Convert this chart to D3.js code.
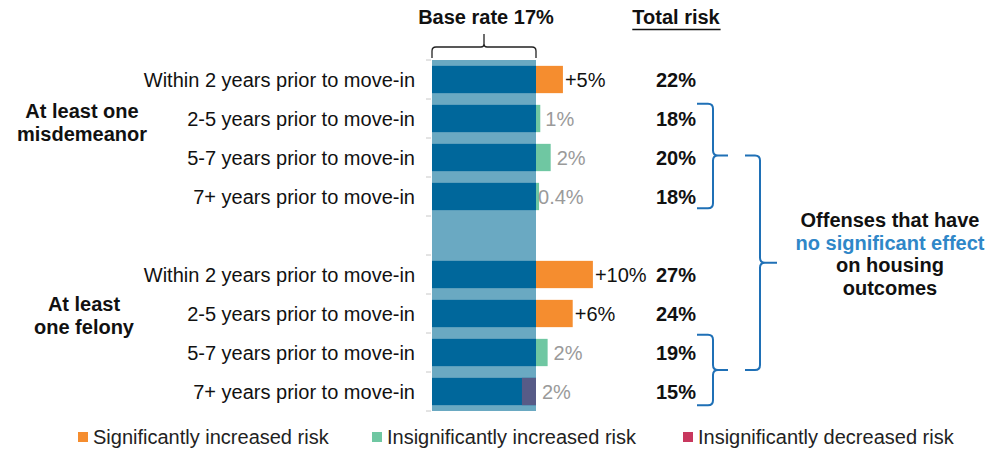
<!DOCTYPE html>
<html>
<head>
<meta charset="utf-8">
<title>Risk by offense timing</title>
<script src="https://d3js.org/d3.v7.min.js"></script>
<style>
  body { margin: 0; background: #fff; }
  text { font-family: "Liberation Sans", Arial, sans-serif; }
</style>
</head>
<body>
<div id="chart"></div>
<script>

// ---- data ----
var slots = ["m1", "m2", "m3", "m4", "gap", "f1", "f2", "f3", "f4"];
var rowKeys = ["m1", "m2", "m3", "m4", "f1", "f2", "f3", "f4"];
var categories = [
  "Within 2 years prior to move-in", "2-5 years prior to move-in",
  "5-7 years prior to move-in", "7+ years prior to move-in",
  "Within 2 years prior to move-in", "2-5 years prior to move-in",
  "5-7 years prior to move-in", "7+ years prior to move-in"
];
var baseRate = 17;
var deltas = [4.4, 0.7, 2.4, 0.5, 9.3, 6.0, 1.9, -2.3];
var deltaTypes = ["sig", "insigUp", "insigUp", "insigUp", "sig", "sig", "insigUp", "insigDown"];
var deltaLabels = ["+5%", "1%", "2%", "0.4%", "+10%", "+6%", "2%", "2%"];
var totalLabels = ["22%", "18%", "20%", "18%", "27%", "24%", "19%", "15%"];
var groupLabels = [["At least one", "misdemeanor"], ["At least", "one felony"]];
var legendLabels = ["Significantly increased risk", "Insignificantly increased risk", "Insignificantly decreased risk"];
var noteLines = ["Offenses that have", "no significant effect", "on housing", "outcomes"];

var barColor = { sig: "#f58d2f", insigUp: "#6fc7a2", insigDown: "#575b87" };
var legendColors = ["#f58d2f", "#6fc7a2", "#c8385e"];

var fs = "20px";
var width = 990, height = 450;
var svg = d3.select("#chart").append("svg")
  .attr("width", width).attr("height", height);

var x = d3.scaleLinear().domain([0, baseRate]).range([432, 536]);
var y = d3.scaleBand().domain(slots).range([60, 411])
  .paddingInner(0.3).paddingOuter(0.15);

var rows = rowKeys.map(function(k, i) {
  return { key: k, label: categories[i], d: deltas[i], type: deltaTypes[i],
           dl: deltaLabels[i], total: totalLabels[i] };
});

// light background band
svg.append("rect")
  .attr("x", x(0)).attr("y", 60)
  .attr("width", x(baseRate) - x(0)).attr("height", 351)
  .attr("fill", "#6aa9c2");

// small ticks between categories
var step = y.step();
svg.selectAll(".tick").data(d3.range(slots.length + 1)).enter().append("line")
  .attr("x1", 426).attr("x2", 431)
  .attr("y1", function(k) { return 60 + k * step; })
  .attr("y2", function(k) { return 60 + k * step; })
  .attr("stroke", "#c8c8c8");

// base bars
svg.selectAll(".base").data(rows).enter().append("rect")
  .attr("x", x(0)).attr("y", function(r) { return y(r.key); })
  .attr("width", x(baseRate) - x(0)).attr("height", y.bandwidth())
  .attr("fill", "#00679b");

// delta bars
svg.selectAll(".delta").data(rows).enter().append("rect")
  .attr("x", function(r) { return x(Math.min(baseRate, baseRate + r.d)); })
  .attr("y", function(r) { return y(r.key); })
  .attr("width", function(r) { return Math.abs(x(baseRate + r.d) - x(baseRate)); })
  .attr("height", y.bandwidth())
  .attr("fill", function(r) { return barColor[r.type]; });

// delta labels
svg.selectAll(".dlab").data(rows).enter().append("text")
  .attr("x", function(r) {
    var end = x(baseRate + Math.max(r.d, 0));
    if (r.type == "sig") return end + 2;
    return r.d < 1 && r.d > 0 ? end + (r.d < 0.6 ? -1 : 5) : end + 6;
  })
  .attr("y", function(r) { return y(r.key) + y.bandwidth() / 2; })
  .attr("dy", "0.35em")
  .attr("font-size", fs)
  .attr("fill", function(r) { return r.type == "sig" ? "#111" : "#9a9a9a"; })
  .text(function(r) { return r.dl; });

// category labels
svg.selectAll(".cat").data(rows).enter().append("text")
  .attr("x", 415)
  .attr("y", function(r) { return y(r.key) + y.bandwidth() / 2; })
  .attr("dy", "0.35em")
  .attr("text-anchor", "end")
  .attr("font-size", fs)
  .attr("fill", "#111")
  .text(function(r) { return r.label; });

// totals
svg.selectAll(".total").data(rows).enter().append("text")
  .attr("x", 676)
  .attr("y", function(r) { return y(r.key) + y.bandwidth() / 2; })
  .attr("dy", "0.35em")
  .attr("text-anchor", "middle")
  .attr("font-size", fs).attr("font-weight", "bold")
  .attr("fill", "#111")
  .text(function(r) { return r.total; });

// group labels
var groupPos = [{ cx: 82, y0: 118 }, { cx: 84, y0: 311 }];
groupLabels.forEach(function(lines, g) {
  svg.append("text")
    .attr("x", groupPos[g].cx).attr("y", groupPos[g].y0)
    .attr("text-anchor", "middle")
    .attr("font-size", fs).attr("font-weight", "bold").attr("fill", "#111")
    .selectAll("tspan").data(lines).enter().append("tspan")
    .attr("x", groupPos[g].cx)
    .attr("dy", function(d, i) { return i == 0 ? 0 : 22.5; })
    .text(function(d) { return d; });
});

// headers
var bx0 = x(0), bx1 = x(baseRate), bmid = (bx0 + bx1) / 2;
svg.append("text")
  .attr("x", 486).attr("y", 24)
  .attr("text-anchor", "middle")
  .attr("font-size", fs).attr("font-weight", "bold").attr("fill", "#111")
  .text("Base rate " + baseRate + "%");

svg.append("path")
  .attr("d", "M" + bx0 + ",58 L" + bx0 + ",51 Q" + bx0 + ",47 " + (bx0 + 4) + ",47 L" + (bmid - 3) + ",47 Q" + bmid + ",47 " + bmid + ",44 L" + bmid + ",34" +
             " M" + bmid + ",44 Q" + bmid + ",47 " + (bmid + 3) + ",47 L" + (bx1 - 4) + ",47 Q" + bx1 + ",47 " + bx1 + ",51 L" + bx1 + ",58")
  .attr("fill", "none").attr("stroke", "#222").attr("stroke-width", 1.3);

var tr = svg.append("text")
  .attr("x", 676).attr("y", 24)
  .attr("text-anchor", "middle")
  .attr("font-size", fs).attr("font-weight", "bold").attr("fill", "#111")
  .text("Total risk");
var tb = tr.node().getBBox();
svg.append("line")
  .attr("x1", tb.x).attr("x2", tb.x + tb.width)
  .attr("y1", 29.5).attr("y2", 29.5)
  .attr("stroke", "#111").attr("stroke-width", 1.6);

// right braces
function brace(x0, xv, xt, y0, y1, ym) {
  var r = 5;
  return "M" + x0 + "," + y0 + " L" + (xv - r) + "," + y0 +
    " Q" + xv + "," + y0 + " " + xv + "," + (y0 + r) +
    " L" + xv + "," + (ym - r) +
    " Q" + xv + "," + ym + " " + (xv + r) + "," + ym +
    " L" + xt + "," + ym +
    " M" + (xv + r) + "," + ym +
    " Q" + xv + "," + ym + " " + xv + "," + (ym + r) +
    " L" + xv + "," + (y1 - r) +
    " Q" + xv + "," + y1 + " " + (xv - r) + "," + y1 +
    " L" + x0 + "," + y1;
}
var bw = y.bandwidth();
var b1top = y("m2") - 1, b1bot = y("m4") + bw - 2, b1mid = y("m3") + bw / 2 - 2;
var b3top = y("f3") - 4, b3bot = y("f4") + bw, b3mid = (b3top + b3bot) / 2;
var braceColor = "#1f70b6";
[brace(697, 713, 728, b1top, b1bot, b1mid),
 brace(697, 713, 728, b3top, b3bot, b3mid),
 brace(745, 760, 777, b1mid, b3mid, (b1mid + b3mid) / 2)].forEach(function(d) {
  svg.append("path").attr("d", d)
    .attr("fill", "none").attr("stroke", braceColor).attr("stroke-width", 2);
});

// note text
svg.append("text")
  .attr("x", 890).attr("y", 227)
  .attr("text-anchor", "middle")
  .attr("font-size", fs).attr("font-weight", "bold")
  .selectAll("tspan").data(noteLines).enter().append("tspan")
  .attr("x", 890)
  .attr("dy", function(d, i) { return i == 0 ? 0 : 22.5; })
  .attr("fill", function(d, i) { return i == 1 ? "#2f87c8" : "#111"; })
  .text(function(d) { return d; });

// legend
var legendX = [78, 372, 683];
var lg = svg.selectAll(".legend").data(legendLabels).enter().append("g")
  .attr("transform", function(d, i) { return "translate(" + legendX[i] + ",432)"; });
lg.append("rect").attr("width", 10).attr("height", 10)
  .attr("fill", function(d, i) { return legendColors[i]; });
lg.append("text")
  .attr("x", 15).attr("y", 12)
  .attr("font-size", fs).attr("fill", "#222")
  .text(function(d) { return d; });

</script>
</body>
</html>
